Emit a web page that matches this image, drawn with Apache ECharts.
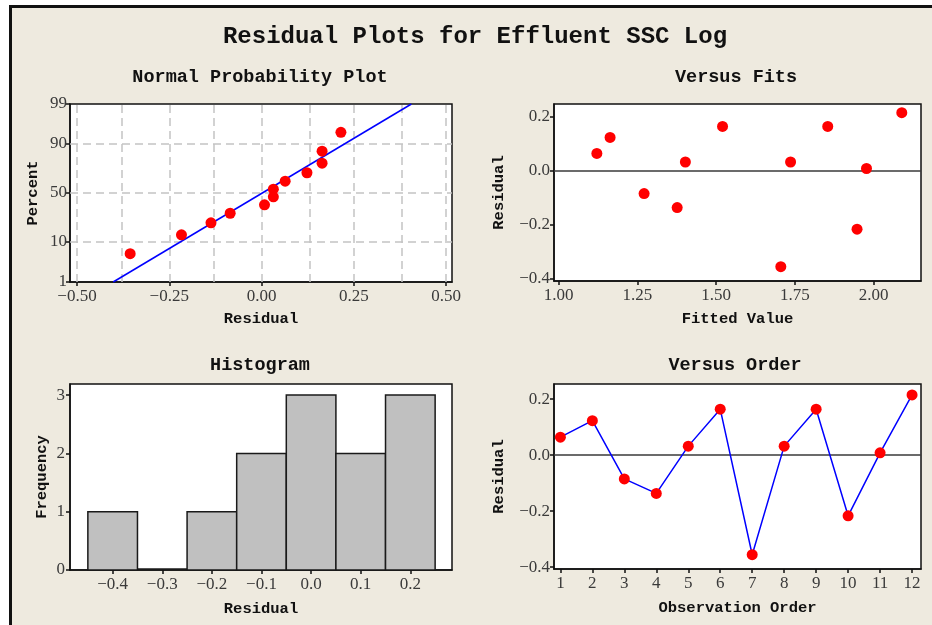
<!DOCTYPE html>
<html>
<head>
<meta charset="utf-8">
<script src="https://cdn.jsdelivr.net/npm/echarts@6/dist/echarts.min.js"></script>
<style>
  html, body { margin: 0; padding: 0; background: #ffffff; }
  #chart { width: 932px; height: 625px; }
</style>
</head>
<body>
<div id="chart"></div>
<script>
// ---- data ----
const observationOrder = [1, 2, 3, 4, 5, 6, 7, 8, 9, 10, 11, 12];
const residuals = [0.064, 0.123, -0.085, -0.137, 0.032, 0.164, -0.356, 0.032, 0.164, -0.217, 0.008, 0.215];
const fittedValues = [1.121, 1.163, 1.271, 1.376, 1.402, 1.520, 1.705, 1.736, 1.854, 1.947, 1.977, 2.089];

// plotting positions (percent) for the sorted residuals
const probPercents = [5.65, 13.71, 21.77, 29.84, 37.90, 45.97, 54.03, 62.10, 70.16, 78.23, 86.29, 94.35];
// fitted normal line, endpoints at 1% and 99%
const fitLinePercents = [1, 99];
const fitLineResiduals = [-0.402, 0.406];

// histogram bins
const binEdges = [-0.45, -0.35, -0.25, -0.15, -0.05, 0.05, 0.15, 0.25];
const binCounts = [1, 0, 1, 2, 3, 2, 3];

// tick values
const probTicksPercent = [1, 10, 50, 90, 99];
const probGridPercent = [10, 50, 90];
const probTicksResidual = [-0.5, -0.25, 0, 0.25, 0.5];
const probGridResidual = [-0.5, -0.375, -0.25, -0.125, 0, 0.125, 0.25, 0.375, 0.5];
const fitTicks = [1, 1.25, 1.5, 1.75, 2];
const residualTicks = [-0.4, -0.2, 0, 0.2];
const histTicksX = [-0.4, -0.3, -0.2, -0.1, 0, 0.1, 0.2];
const histTicksY = [0, 1, 2, 3];

// ---- helpers ----
// inverse of the standard normal CDF (Acklam's approximation) for the probability scale
function probit(p) {
  const a = [-3.969683028665376e+01, 2.209460984245205e+02, -2.759285104469687e+02,
             1.383577518672690e+02, -3.066479806614716e+01, 2.506628277459239e+00];
  const b = [-5.447609879822406e+01, 1.615858368580409e+02, -1.556989798598866e+02,
             6.680131188771972e+01, -1.328068155288572e+01];
  const c = [-7.784894002430293e-03, -3.223964580411365e-01, -2.400758277161838e+00,
             -2.549671010243277e+00, 4.374664141464968e+00, 2.938163982698783e+00];
  const d = [7.784695709041462e-03, 3.224671290700398e-01, 2.445134137142996e+00,
             3.754408661907416e+00];
  const pl = 0.02425, ph = 1 - pl;
  let q, r;
  if (p < pl) {
    q = Math.sqrt(-2 * Math.log(p));
    return (((((c[0]*q+c[1])*q+c[2])*q+c[3])*q+c[4])*q+c[5]) / ((((d[0]*q+d[1])*q+d[2])*q+d[3])*q+1);
  }
  if (p <= ph) {
    q = p - 0.5; r = q * q;
    return (((((a[0]*r+a[1])*r+a[2])*r+a[3])*r+a[4])*r+a[5])*q / (((((b[0]*r+b[1])*r+b[2])*r+b[3])*r+b[4])*r+1);
  }
  q = Math.sqrt(-2 * Math.log(1 - p));
  return -(((((c[0]*q+c[1])*q+c[2])*q+c[3])*q+c[4])*q+c[5]) / ((((d[0]*q+d[1])*q+d[2])*q+d[3])*q+1);
}
const z = pct => probit(pct / 100);
const fmt = (v, dec) => {
  const s = Math.abs(v) < 1e-9 ? (0).toFixed(dec) : v.toFixed(dec);
  return s.replace('-', '\u2212');
};

const sortedResiduals = residuals.slice().sort((a, b) => a - b);

// ---- styling ----
const TITLE_FONT = '"Liberation Mono", "DejaVu Sans Mono", monospace';
const TICK_FONT = '"Liberation Serif", "DejaVu Serif", serif';
const INK = '#111111';
const TICK_COLOR = '#3a3a3a';
const POINT_STYLE = { color: '#ff0000', opacity: 1 };

function valueAxis(opts) {
  return {
    type: 'value',
    gridIndex: opts.grid,
    min: opts.min,
    max: opts.max,
    name: opts.name,
    nameLocation: 'middle',
    nameGap: opts.nameGap,
    nameMoveOverlap: false,
    nameTextStyle: { fontFamily: TITLE_FONT, fontWeight: 'bold', fontSize: 15.5, color: INK },
    axisLine: { show: true, onZero: false, lineStyle: { color: INK, width: 1.5 } },
    axisTick: { show: true, inside: false, length: 4, lineStyle: { color: INK, width: 1.5 }, customValues: opts.ticks },
    axisLabel: {
      show: true, margin: opts.margin, customValues: opts.ticks,
      fontFamily: TICK_FONT, fontSize: 17, color: TICK_COLOR,
      formatter: opts.formatter
    },
    splitLine: { show: false }
  };
}

// horizontal reference line at zero residual, kept beneath the points
const zeroLine = {
  silent: true, symbol: 'none', animation: false, z: 1, label: { show: false },
  lineStyle: { color: '#3a3a3a', type: 'solid', width: 1.5 },
  data: [{ yAxis: 0 }]
};

const chart = echarts.init(document.getElementById('chart'), null, { renderer: 'canvas' });

const gridBase = { show: true, backgroundColor: '#ffffff', borderColor: INK, borderWidth: 1.5, containLabel: false };

const option = {
  backgroundColor: '#ffffff',
  animation: false,
  graphic: [{
    type: 'rect', z: -10, silent: true,
    shape: { x: 10.5, y: 6.5, width: 1000, height: 700 },
    style: { fill: '#eeeadf', stroke: '#111111', lineWidth: 3 }
  }],
  title: [
    { text: 'Residual Plots for Effluent SSC Log', left: 475, top: 25, textAlign: 'center', padding: 0,
      textStyle: { fontFamily: TITLE_FONT, fontWeight: 'bold', fontSize: 24, color: INK } },
    { text: 'Normal Probability Plot', left: 260, top: 68, textAlign: 'center', padding: 0,
      textStyle: { fontFamily: TITLE_FONT, fontWeight: 'bold', fontSize: 18.5, color: INK } },
    { text: 'Versus Fits', left: 736, top: 68, textAlign: 'center', padding: 0,
      textStyle: { fontFamily: TITLE_FONT, fontWeight: 'bold', fontSize: 18.5, color: INK } },
    { text: 'Histogram', left: 260, top: 356, textAlign: 'center', padding: 0,
      textStyle: { fontFamily: TITLE_FONT, fontWeight: 'bold', fontSize: 18.5, color: INK } },
    { text: 'Versus Order', left: 735, top: 356, textAlign: 'center', padding: 0,
      textStyle: { fontFamily: TITLE_FONT, fontWeight: 'bold', fontSize: 18.5, color: INK } }
  ],
  grid: [
    Object.assign({ left: 70, top: 104, width: 382, height: 178 }, gridBase),
    Object.assign({ left: 554, top: 104, width: 367, height: 177 }, gridBase),
    Object.assign({ left: 70, top: 384, width: 382, height: 186 }, gridBase),
    Object.assign({ left: 554, top: 384, width: 367, height: 185 }, gridBase)
  ],
  xAxis: [
    valueAxis({ grid: 0, min: -0.519, max: 0.516, ticks: probTicksResidual, margin: 6,
      name: 'Residual', nameGap: 29, formatter: v => fmt(v, 2) }),
    valueAxis({ grid: 1, min: 0.985, max: 2.15, ticks: fitTicks, margin: 6,
      name: 'Fitted Value', nameGap: 30, formatter: v => fmt(v, 2) }),
    valueAxis({ grid: 2, min: -0.486, max: 0.284, ticks: histTicksX, margin: 6,
      name: 'Residual', nameGap: 31, formatter: v => fmt(v, 1) }),
    valueAxis({ grid: 3, min: 0.8, max: 12.28, ticks: observationOrder, margin: 6,
      name: 'Observation Order', nameGap: 31, formatter: v => String(Math.round(v)) })
  ],
  yAxis: [
    valueAxis({ grid: 0, min: z(1), max: z(99), ticks: probTicksPercent.map(z), margin: 3,
      name: 'Percent', nameGap: 29,
      formatter: v => {
        const p = probTicksPercent.find(t => Math.abs(z(t) - v) < 1e-6);
        return p === undefined ? '' : String(p);
      } }),
    valueAxis({ grid: 1, min: -0.409, max: 0.247, ticks: residualTicks, margin: 4,
      name: 'Residual', nameGap: 47, formatter: v => fmt(v, 1) }),
    valueAxis({ grid: 2, min: 0, max: 3.19, ticks: histTicksY, margin: 5,
      name: 'Frequency', nameGap: 20, formatter: v => String(Math.round(v)) }),
    valueAxis({ grid: 3, min: -0.407, max: 0.254, ticks: residualTicks, margin: 4,
      name: 'Residual', nameGap: 47, formatter: v => fmt(v, 1) })
  ],
  series: [
    // probability plot reference grid
    {
      type: 'line', xAxisIndex: 0, yAxisIndex: 0, data: [], z: 1, silent: true,
      markLine: {
        silent: true, symbol: 'none', animation: false, z: 1,
        label: { show: false },
        lineStyle: { color: '#c4c4c4', type: [8, 5], width: 1.5 },
        data: probGridResidual.map(v => ({ xAxis: v }))
          .concat(probGridPercent.map(p => ({ yAxis: z(p) })))
      }
    },
    // fitted normal line
    {
      type: 'line', xAxisIndex: 0, yAxisIndex: 0, z: 2, silent: true,
      symbol: 'none', lineStyle: { color: '#0000ff', width: 1.5 },
      data: fitLinePercents.map((p, i) => [fitLineResiduals[i], z(p)])
    },
    // residual points on the probability scale
    {
      type: 'scatter', xAxisIndex: 0, yAxisIndex: 0, z: 3,
      symbol: 'circle', symbolSize: 11, itemStyle: POINT_STYLE,
      data: sortedResiduals.map((r, i) => [r, z(probPercents[i])])
    },
    // versus fits
    {
      type: 'scatter', xAxisIndex: 1, yAxisIndex: 1, z: 3,
      symbol: 'circle', symbolSize: 11, itemStyle: POINT_STYLE,
      data: fittedValues.map((f, i) => [f, residuals[i]]),
      markLine: zeroLine
    },
    // histogram
    {
      type: 'custom', xAxisIndex: 2, yAxisIndex: 2, z: 2,
      data: binCounts.map((c, i) => [binEdges[i], binEdges[i + 1], c]),
      renderItem: (params, api) => {
        const p0 = api.coord([api.value(0), api.value(2)]);
        const p1 = api.coord([api.value(1), 0]);
        if (api.value(2) === 0) {
          // an empty bin is drawn as its outline collapsed onto the baseline
          return {
            type: 'line',
            shape: { x1: p0[0], y1: p1[1] - 1, x2: p1[0], y2: p1[1] - 1 },
            style: { stroke: '#1a1a1a', lineWidth: 1.5 }
          };
        }
        return {
          type: 'rect',
          shape: { x: p0[0], y: p0[1], width: p1[0] - p0[0], height: p1[1] - p0[1] },
          style: { fill: '#c0c0c0', stroke: '#1a1a1a', lineWidth: 1.5 }
        };
      }
    },
    // versus order
    {
      type: 'line', xAxisIndex: 3, yAxisIndex: 3, z: 3,
      symbol: 'circle', symbolSize: 11, showSymbol: true,
      itemStyle: POINT_STYLE,
      lineStyle: { color: '#0000ff', width: 1.5 },
      data: observationOrder.map((o, i) => [o, residuals[i]]),
      markLine: zeroLine
    }
  ]
};

chart.setOption(option);
</script>
</body>
</html>
